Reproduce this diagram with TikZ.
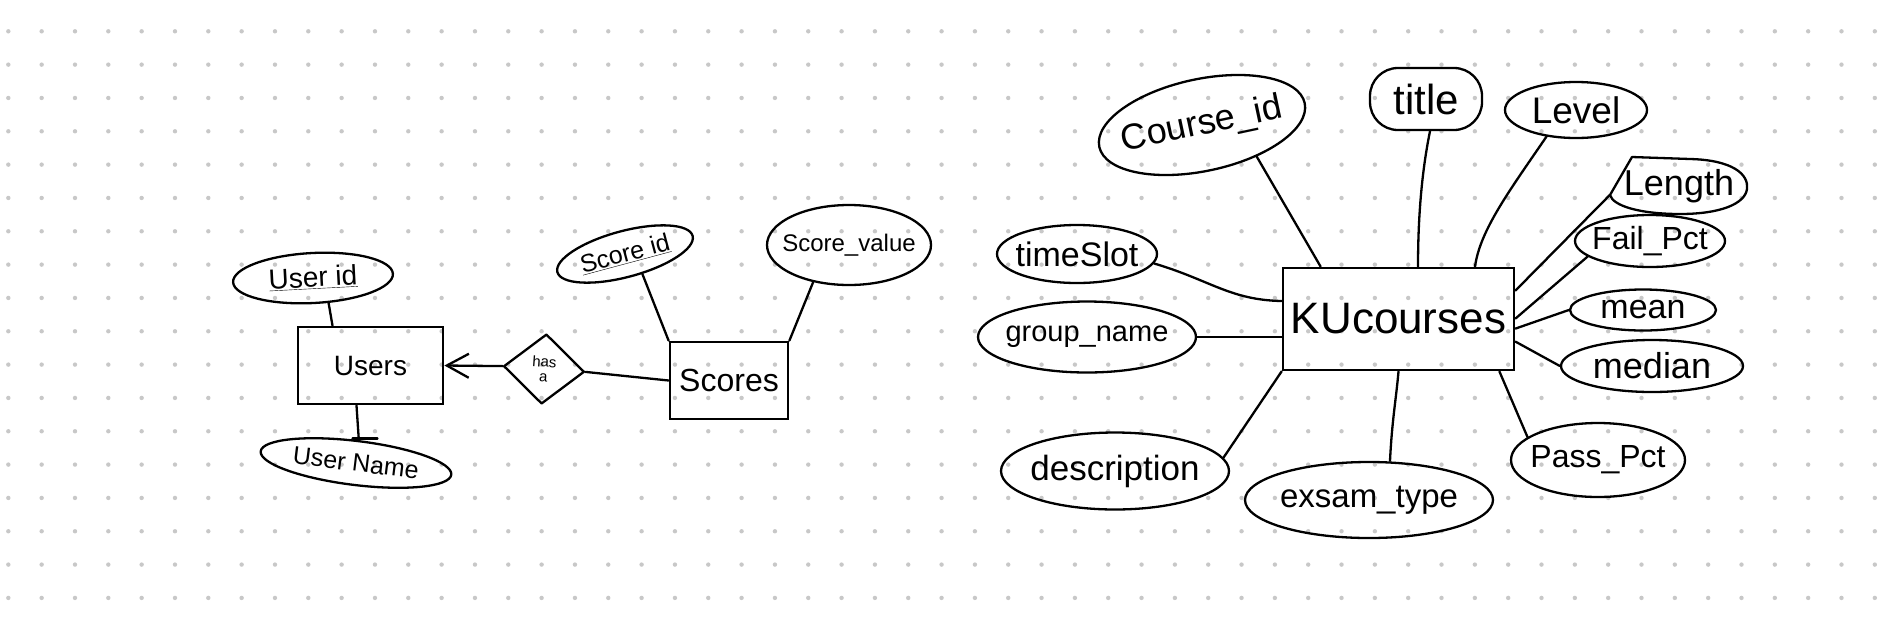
\documentclass[tikz,border=0pt]{standalone}
\usepackage{fontspec}
\setmainfont{Liberation Sans}
\usetikzlibrary{shapes.geometric,arrows.meta}
\definecolor{dotc}{RGB}{200,200,200}
\newcommand{\fsz}[1]{\fontsize{#1}{#1}\selectfont}
\newcommand{\nb}[1]{\makebox[0pt]{#1}}
\begin{document}
\begin{tikzpicture}[x=1pt,y=-1pt,
  ink/.style={line width=2.3pt, line cap=round, line join=round},
  attr/.style={ink, draw, ellipse, inner sep=0pt},
  ent/.style={draw, line width=2.8pt, rectangle, inner sep=0pt},
  rel/.style={ink, draw, diamond, inner sep=0pt, align=center}]
\useasboundingbox (0,0) rectangle (1890,625);
\fill[white] (0,0) rectangle (1890,625);
\foreach \i in {0,...,56} \foreach \j in {0,...,17}
  \fill[dotc] ({8.33+33.33*\i},{31.3+33.33*\j}) circle (2.2);

% ---------- left diagram ----------
\node[ent, minimum width=145pt, minimum height=77pt, font=\fsz{28}] (users) at (370.5,365.5) {Users};
\node[ent, minimum width=118pt, minimum height=77pt, font=\fsz{32}] (scores) at (729,380.5) {Scores};
\node[attr, minimum width=160pt, minimum height=50pt, rotate=3, font=\fsz{28}] (userid) at (313,278) {\nb{\underline{User id}}};
\node[attr, minimum width=192pt, minimum height=44pt, rotate=-7, font=\fsz{25}] (username) at (356,463) {\nb{User Name}};
\node[rel, minimum width=81pt, minimum height=70pt, rotate=-4, font=\fsz{15}] (hasa) at (544,369) {has\\a};
\node[attr, minimum width=140pt, minimum height=46pt, rotate=15, font=\fsz{25}] (scoreid) at (625,254) {\nb{\underline{Score id}}};
\node[attr, minimum width=164pt, minimum height=80pt, font=\fsz{24}] (scorevalue) at (849,245) {\nb{Score\_value}};

\draw[ink] (userid.-61) -- ([xshift=-38pt]users.north);
\draw[ink] ([xshift=-14pt]users.south) -- (username.90);
\draw[ink] ([xshift=-18pt,yshift=-33pt]users.south) -- ([xshift=7pt,yshift=-33pt]users.south);
\draw[ink, -{Straight Barb[length=22pt,width=24pt]}] (hasa.west) -- (users.east);
\draw[ink] (hasa.east) -- (scores.west);
\draw[ink] (scoreid.-64) -- (scores.north west);
\draw[ink] (scorevalue.226) -- (scores.north east);

% ---------- right diagram ----------
\node[ent, minimum width=231pt, minimum height=102pt, font=\fsz{44}] (ku) at (1398.5,319) {KUcourses};
\node[attr, minimum width=210pt, minimum height=92pt, rotate=12, font=\fsz{36}] (courseid) at (1202,125) {\nb{Course\_id}};
\node[ink, draw, rectangle, rounded corners=28pt, minimum width=112pt, minimum height=62pt, inner sep=0pt, font=\fsz{42}] (title) at (1426,99) {title};
\node[attr, minimum width=142pt, minimum height=56pt, font=\fsz{37}] (level) at (1576,110) {\nb{Level}};
\node[ellipse, minimum width=138pt, minimum height=56pt, inner sep=0pt, font=\fsz{36}] (length) at (1679,186) {\nb{Length}};
\draw[ink] (1610,195) -- (1632,157) -- (1690,159)
  .. controls (1732,160) and (1749,174) .. (1747,189)
  .. controls (1745,204) and (1720,214) .. (1680,214)
  .. controls (1640,214) and (1613,206) .. (1610,195);
\node[attr, minimum width=150pt, minimum height=52pt, font=\fsz{32}] (failpct) at (1650,241) {\nb{Fail\_Pct}};
\node[attr, minimum width=146pt, minimum height=41pt, font=\fsz{34}] (mean) at (1643,310) {\nb{mean}};
\node[attr, minimum width=182pt, minimum height=52pt, font=\fsz{36}] (median) at (1652,366) {\nb{median}};
\node[attr, minimum width=174pt, minimum height=74pt, font=\fsz{32}] (passpct) at (1598,460) {\nb{Pass\_Pct}};
\node[attr, minimum width=248pt, minimum height=76pt, font=\fsz{33}] (exsam) at (1369,500) {\nb{exsam\_type}};
\node[attr, minimum width=228pt, minimum height=77pt, font=\fsz{35}] (description) at (1115,471) {\nb{description}};
\node[attr, minimum width=218pt, minimum height=71pt, font=\fsz{29}] (groupname) at (1087,337) {\nb{group\_name}};
\node[attr, minimum width=160pt, minimum height=58pt, font=\fsz{34}] (timeslot) at (1077,254) {\nb{timeSlot}};

\draw[ink] (courseid.-42) -- ([xshift=39pt]ku.north west);
\draw[ink] ([xshift=4pt]title.south) .. controls (1420,180) and (1418,230) .. ([xshift=19.5pt]ku.north);
\draw[ink] (level.222) .. controls (1510,190) and (1480,230) .. ([xshift=76.5pt]ku.north);
\draw[ink] ([yshift=-9pt]length.west) -- ([yshift=-24pt]ku.north east);
\draw[ink] (failpct.194) -- ([yshift=-52pt]ku.north east);
\draw[ink] (mean.west) -- ([yshift=-62pt]ku.north east);
\draw[ink] (median.west) -- ([yshift=-75pt]ku.north east);
\draw[ink] (passpct.162) -- ([xshift=-16pt]ku.south east);
\draw[ink] ([xshift=21pt]exsam.north) .. controls (1392,420) and (1396,400) .. (ku.south);
\draw[ink] (description.7) -- (ku.south west);
\draw[ink] (groupname.east) -- ([yshift=-18pt]ku.west);
\draw[ink] (timeslot.-7) .. controls (1210,280) and (1230,300) .. ([yshift=18pt]ku.west);
\end{tikzpicture}
\end{document}
